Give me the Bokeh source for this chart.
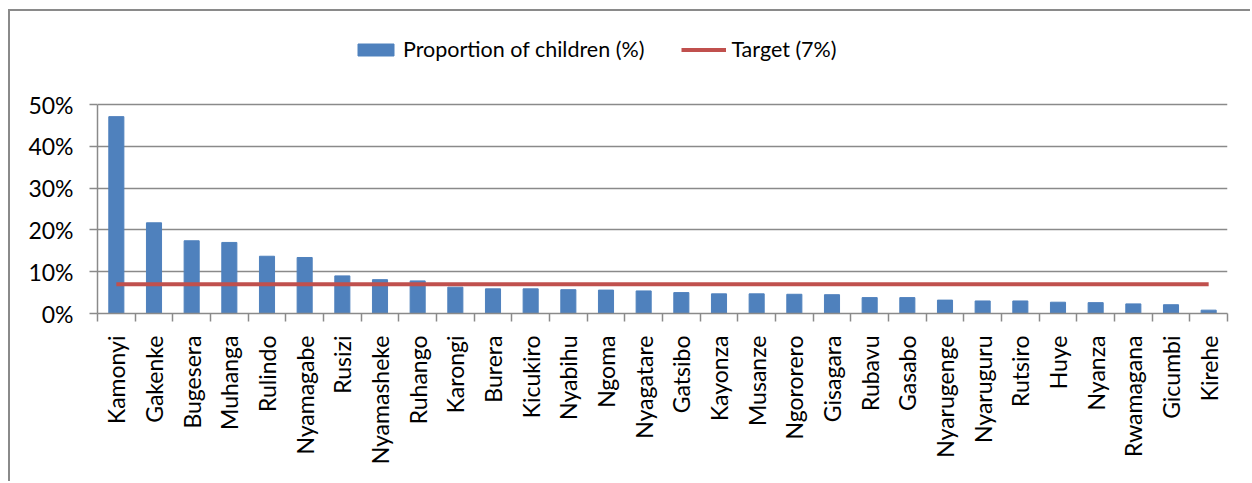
import math
from bokeh.plotting import figure
from bokeh.models import (Range1d, LinearAxis, FixedTicker, NumeralTickFormatter, Legend,
                          LegendItem, CustomJSTickFormatter)
from bokeh.embed import file_html
from bokeh.resources import INLINE

districts = ["Kamonyi", "Gakenke", "Bugesera", "Muhanga", "Rulindo", "Nyamagabe", "Rusizi",
             "Nyamasheke", "Ruhango", "Karongi", "Burera", "Kicukiro", "Nyabihu", "Ngoma",
             "Nyagatare", "Gatsibo", "Kayonza", "Musanze", "Ngororero", "Gisagara", "Rubavu",
             "Gasabo", "Nyarugenge", "Nyaruguru", "Rutsiro", "Huye", "Nyanza", "Rwamagana",
             "Gicumbi", "Kirehe"]
proportion = [0.471, 0.217, 0.174, 0.170, 0.137, 0.134, 0.090, 0.081, 0.078, 0.063,
              0.059, 0.059, 0.057, 0.056, 0.054, 0.050, 0.047, 0.047, 0.046, 0.045,
              0.038, 0.038, 0.032, 0.030, 0.030, 0.027, 0.026, 0.023, 0.021, 0.008]
target = [0.07] * len(districts)
y_ticks = [0.0, 0.1, 0.2, 0.3, 0.4, 0.5]

FONT = "Lato"
GRID = "#8a8a8a"
BAR = "#4F81BD"
LINE = "#C0504D"

n = len(districts)
pos = list(range(n))

# the frame reaches up into the legend band; the value axis itself stops at 50%
p = figure(x_range=Range1d(-0.5, n - 0.5), y_range=Range1d(0, 0.701),
           width=1242, height=472, output_backend="svg", toolbar_location=None,
           x_axis_location=None, min_border_left=87, min_border_right=25,
           min_border_top=9, min_border_bottom=170)
p.styles = {"margin-left": "8px", "margin-top": "9px",
            "border-left": f"2px solid {GRID}", "border-top": f"2px solid {GRID}"}
p.outline_line_color = None
p.background_fill_color = "white"
p.border_fill_color = "white"

bars = p.vbar(x=pos, top=proportion, width=0.4, color=BAR)
tline = p.line(x=pos, y=target, line_color=LINE, line_width=4)

# y axis
yax = p.yaxis[0]
yax.bounds = (0, 0.5)
yax.ticker = FixedTicker(ticks=y_ticks)
yax.formatter = NumeralTickFormatter(format="0%")
yax.axis_line_color = GRID
yax.axis_line_width = 1.5
yax.major_tick_line_color = GRID
yax.major_tick_line_width = 1.5
yax.major_tick_out = 8
yax.major_tick_in = 0
yax.minor_tick_line_color = None
yax.major_label_standoff = 16
yax.major_label_text_font = FONT
yax.major_label_text_font_size = "23px"
yax.major_label_text_color = "black"

p.xgrid.grid_line_color = None
p.ygrid.grid_line_color = GRID
p.ygrid.grid_line_width = 1.5
p.ygrid.ticker = FixedTicker(ticks=y_ticks)

# axis line with tick marks between categories
edge_axis = LinearAxis(ticker=FixedTicker(ticks=[i - 0.5 for i in range(n + 1)]),
                       formatter=CustomJSTickFormatter(code="return ''"),
                       major_label_text_font_size="1px", major_label_standoff=0,
                       axis_line_color=GRID, axis_line_width=1.5,
                       major_tick_line_color=GRID, major_tick_line_width=1.5,
                       major_tick_out=8, major_tick_in=0, minor_tick_line_color=None)
p.add_layout(edge_axis, "below")

# district names under each bar
name_axis = LinearAxis(ticker=FixedTicker(ticks=pos),
                       major_label_overrides={i: d for i, d in enumerate(districts)},
                       axis_line_color=None, major_tick_line_color=None,
                       minor_tick_line_color=None, major_label_orientation=math.pi / 2,
                       major_label_standoff=8, major_label_text_font=FONT,
                       major_label_text_font_size="23px", major_label_text_color="black")
p.add_layout(name_axis, "below")

legend = Legend(items=[LegendItem(label="Proportion of children (%)", renderers=[bars]),
                       LegendItem(label="Target (7%)", renderers=[tline])],
                orientation="horizontal", location=(256, 251),
                glyph_width=45, glyph_height=15, label_standoff=5, spacing=37,
                padding=0, margin=0, border_line_color=None, background_fill_alpha=0,
                label_text_font=FONT, label_text_font_size="21.5px", label_text_color="black",
                label_height=20)
p.add_layout(legend, "center")

open("out.html", "w").write(file_html(p, INLINE))
